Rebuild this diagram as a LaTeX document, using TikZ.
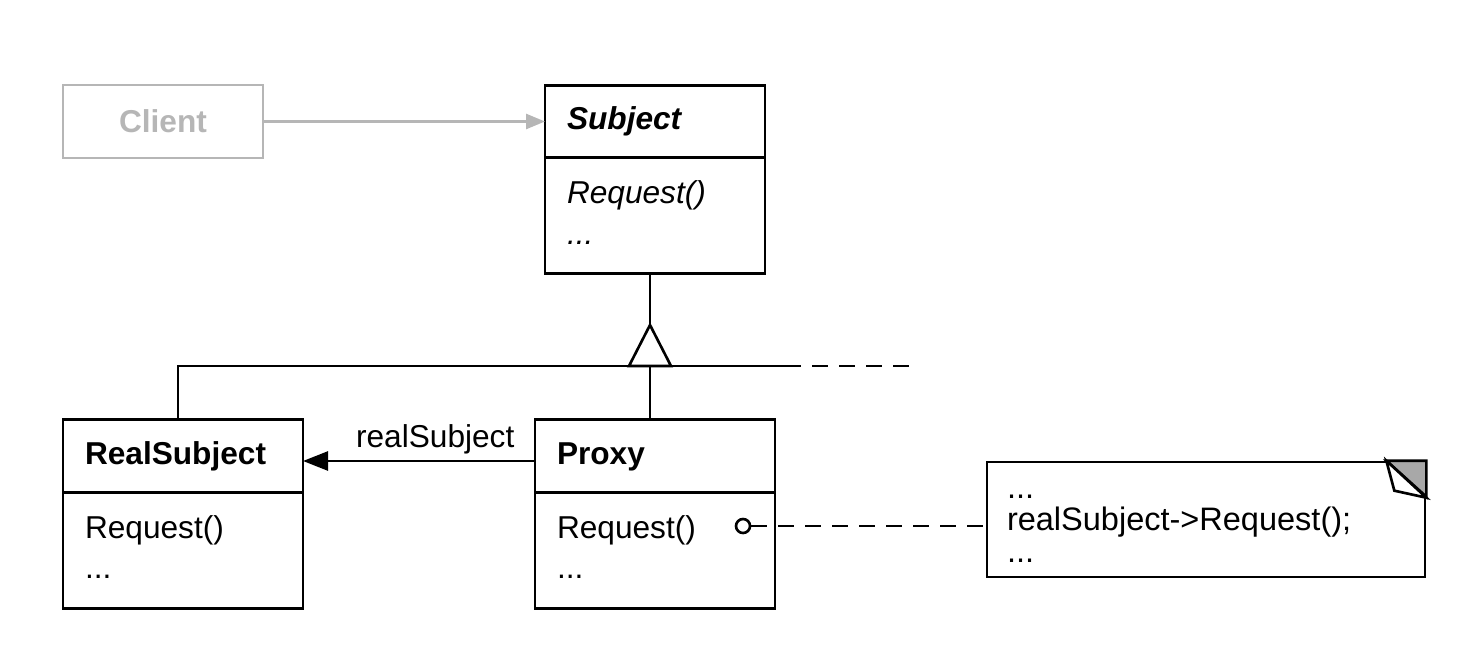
\documentclass[tikz,border=0pt]{standalone}
\usepackage{fontspec}
\setmainfont{Liberation Sans}
\usetikzlibrary{positioning, arrows.meta}
\definecolor{clientgray}{RGB}{182,182,182}
\definecolor{foldgray}{RGB}{168,168,168}
\tikzstyle{classhead} = [rectangle, draw=black, line width=1.5pt, outer sep=0pt, align=left, inner xsep=0.44cm, minimum height=1.45cm, font=\fontsize{18}{23}\selectfont\bfseries]
\tikzstyle{classbody} = [rectangle, draw=black, line width=1.5pt, outer sep=0pt, align=left, inner xsep=0.44cm, minimum height=2.32cm, font=\fontsize{18}{23}\selectfont]
\tikzstyle{client} = [rectangle, draw=clientgray, text=clientgray, line width=1.5pt, minimum width=4cm, minimum height=1.46cm, font=\fontsize{18}{23}\selectfont\bfseries]
\tikzstyle{note} = [rectangle, draw=black, line width=1.5pt, align=left, inner xsep=0.4cm, inner ysep=0pt, text width=7.96cm, minimum height=2.3cm, font=\fontsize{18.5}{18.2}\selectfont]
\tikzstyle{solidline} = [line width=1.5pt]
\tikzstyle{dashline} = [line width=1.5pt, dash pattern=on 0.32cm off 0.22cm]
\tikzstyle{usearrow} = [line width=1.5pt, draw=clientgray, -{Triangle[length=0.38cm,width=0.3cm]}]
\tikzstyle{assoc} = [line width=1.5pt, -{Triangle[length=0.5cm,width=0.38cm]}]

\begin{document}
\begin{tikzpicture}[node distance=0pt]
\useasboundingbox (0,0) rectangle (29.54,-13.14);

\node (client) [client] at (3.26,-2.43) {Client};
\node (subjecthead) [classhead, text width=3.52cm, font=\fontsize{18}{23}\selectfont\bfseries\itshape] at (13.1,-2.43) {\strut Subject};
\node (subjectbody) [classbody, text width=3.52cm, below=of subjecthead, font=\fontsize{18}{23}\selectfont\itshape] {\strut Request()\\\strut ...};

\node (realhead) [classhead, text width=3.92cm] at (3.66,-9.12) {\strut RealSubject};
\node (realbody) [classbody, text width=3.92cm, below=of realhead] {\strut Request()\\\strut ...};
\node (proxyhead) [classhead, text width=3.92cm] at (13.1,-9.12) {\strut Proxy};
\node (proxybody) [classbody, text width=3.92cm, below=of proxyhead] {\strut Request()\\\strut ...};

\node (note) [note] at (24.12,-10.39) {\rule{0pt}{0.64cm}...\\\strut realSubject->Request();\\\strut ...};
\node (dot) [circle, draw, line width=1.5pt, minimum size=0.28cm, inner sep=0pt] at (14.86,-10.52) {};

\coordinate (apex) at (13.0,-6.5);
\coordinate (bar) at (13.0,-7.32);
\coordinate (barleft) at (3.56,-7.32);
\coordinate (barend) at (16.02,-7.32);

\draw [usearrow] (client) -- (subjecthead);

\draw [solidline] (subjectbody.south -| apex) -- (apex);
\draw [solidline] (apex) -- ++(-0.42,-0.82) -- ++(0.84,0) -- cycle;
\draw [solidline] (barleft |- realhead.north) -- (barleft) -- (barend);
\draw [solidline] (bar) -- (bar |- proxyhead.north);
\draw [dashline] ([xshift=0.22cm]barend) -- ++(1.94,0);

\draw [assoc] ([yshift=-0.1cm]proxyhead.west) -- ([yshift=-0.1cm]realhead.east)
  node [pos=0.43, above, font=\fontsize{18}{23}\selectfont] {realSubject};

\draw [dashline] (dot) -- (dot -| note.west);

\filldraw [solidline, fill=foldgray] ([xshift=-0.8cm]note.north east) -- (note.north east) -- ([yshift=-0.72cm]note.north east) -- cycle;
\filldraw [solidline, fill=white] ([xshift=-0.8cm]note.north east) -- ++(0.16,-0.6) -- ([yshift=-0.74cm]note.north east) -- cycle;

\end{tikzpicture}
\end{document}
